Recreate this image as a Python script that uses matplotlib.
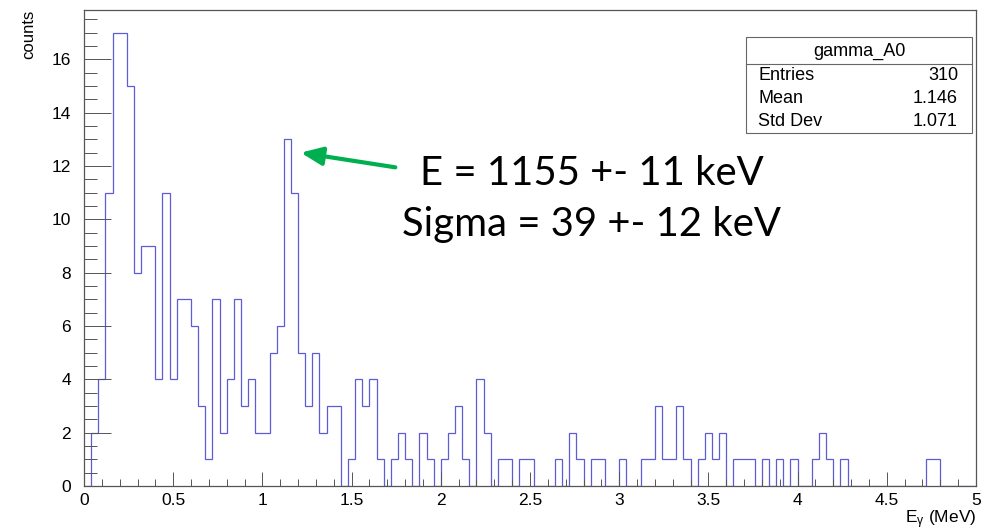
import numpy as np
import matplotlib
matplotlib.use("Agg")
import matplotlib.pyplot as plt
from matplotlib.patches import Rectangle
from matplotlib.lines import Line2D
from matplotlib.ticker import MultipleLocator

plt.rcParams['font.family'] = ['Liberation Sans', 'DejaVu Sans']
plt.rcParams['mathtext.fontset'] = 'custom'
plt.rcParams['mathtext.rm'] = 'Liberation Sans'
plt.rcParams['mathtext.it'] = 'Liberation Sans'

# Histogram gamma_A0: 125 bins of 40 keV between 0 and 5 MeV
e_min, e_max, n_bins = 0.0, 5.0, 125
counts = [
    0, 2, 4, 11, 17, 17, 15, 8, 9, 9,
    4, 11, 4, 7, 7, 6, 3, 1, 7, 2,
    4, 7, 3, 4, 2, 2, 5, 6, 13, 11,
    5, 3, 5, 2, 3, 3, 0, 1, 4, 3,
    4, 1, 0, 1, 2, 1, 0, 2, 1, 0,
    1, 2, 3, 1, 0, 4, 2, 0, 1, 1,
    0, 1, 1, 0, 0, 0, 1, 0, 2, 1,
    0, 1, 1, 0, 0, 1, 0, 0, 1, 1,
    3, 1, 1, 3, 1, 0, 1, 2, 1, 2,
    0, 1, 1, 1, 0, 1, 0, 1, 0, 1,
    0, 0, 1, 2, 1, 0, 1, 0, 0, 0,
    0, 0, 0, 0, 0, 0, 0, 0, 1, 1,
    0, 0, 0, 0, 0,
]

# Statistics box
hist_name = "gamma_A0"
stat_labels = ["Entries", "Mean", "Std Dev"]
stat_values = ["310", "1.146", "1.071"]

# Fit result
fit_lines = ["E = 1155 +- 11 keV", "Sigma = 39 +- 12 keV"]
arrow_tip = (1.215, 12.5)
arrow_tail = (1.745, 11.95)

W, H = 982, 531
fig = plt.figure(figsize=(W / 100, H / 100), dpi=100)
ax_l, ax_r, ax_t, ax_b = 84, 976, 10, 486
ax = fig.add_axes([ax_l / W, (H - ax_b) / H, (ax_r - ax_l) / W, (ax_b - ax_t) / H])

edges = np.linspace(e_min, e_max, n_bins + 1)
ax.stairs(counts, edges, baseline=0, color='#5c5cd6', lw=0.9)

ax.set_xlim(e_min, e_max)
ax.set_ylim(0, 1.05 * max(counts))

frame_col = '#555555'
for side in ['left', 'bottom', 'right', 'top']:
    ax.spines[side].set_color(frame_col)
    ax.spines[side].set_linewidth(0.9)

ax.xaxis.set_major_locator(MultipleLocator(0.5))
ax.xaxis.set_minor_locator(MultipleLocator(0.1))
ax.yaxis.set_major_locator(MultipleLocator(2))
ax.yaxis.set_minor_locator(MultipleLocator(0.5))
ax.xaxis.set_major_formatter(matplotlib.ticker.FuncFormatter(lambda v, p: f"{v:g}"))

ax.tick_params(axis='y', which='major', direction='in', length=19.4, width=0.7,
               color=frame_col, labelsize=12.5, pad=9.5)
ax.tick_params(axis='y', which='minor', direction='in', length=9.7, width=0.7, color=frame_col)
ax.tick_params(axis='x', which='major', direction='in', length=10, width=0.7,
               color=frame_col, labelsize=12.5, pad=5)
ax.tick_params(axis='x', which='minor', direction='in', length=5, width=0.7, color=frame_col)

# Axis titles at the ends of the axes
fig.text(29 / W, 1 - 10 / H, "counts", rotation=90, ha='center', va='top', fontsize=12)
fig.text(ax_r / W, 1 - 523 / H, r"E$_{\gamma}$ (MeV)", ha='right', va='baseline', fontsize=12.5)

# Statistics box
bx0, bx1, by0, by1, bsep = 746, 972, 37, 133, 64
fig.patches.append(Rectangle((bx0 / W, 1 - by1 / H), (bx1 - bx0) / W, (by1 - by0) / H,
                             transform=fig.transFigure, facecolor='white',
                             edgecolor='#666666', lw=0.8, zorder=5))
fig.lines.append(Line2D([bx0 / W, bx1 / W], [1 - bsep / H, 1 - bsep / H],
                        transform=fig.transFigure, color='#666666', lw=0.8, zorder=6))
fig.text((bx0 + bx1) / 2 / W, 1 - 51 / H, hist_name, ha='center', va='center',
         fontsize=13, zorder=7)
for i, (lab, val) in enumerate(zip(stat_labels, stat_values)):
    yy = 1 - (75 + 23.5 * i) / H
    fig.text(758 / W, yy, lab, ha='left', va='center', fontsize=13, zorder=7)
    fig.text(958 / W, yy, val, ha='right', va='center', fontsize=13, zorder=7)

# Fit annotation
ax.annotate("", xy=arrow_tip, xytext=arrow_tail, xycoords='data', textcoords='data',
            arrowprops=dict(arrowstyle='-|>,head_length=1.3,head_width=0.55',
                            color='#00B050', lw=3.0, shrinkA=0, shrinkB=0))
fig.text(592 / W, 1 - 185 / H, fit_lines[0], ha='center', va='baseline',
         fontsize=28.8, family=['Lato', 'DejaVu Sans'])
fig.text(591 / W, 1 - 236 / H, fit_lines[1], ha='center', va='baseline',
         fontsize=28.8, family=['Lato', 'DejaVu Sans'])

fig.savefig("out.png", dpi=100)
